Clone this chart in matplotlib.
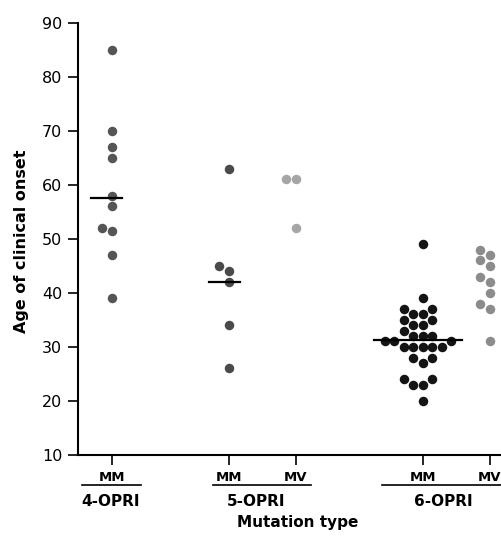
import matplotlib
matplotlib.use("Agg")
import matplotlib.pyplot as plt
import matplotlib.transforms as mtransforms
import numpy as np

# age of clinical onset, one entry per patient
ages_4opri_mm = [85, 70, 67, 65, 58, 56, 52, 51.5, 47, 39]
ages_5opri_mm = [63, 45, 44, 42, 34, 26]
ages_5opri_mv = [61, 61, 52]
ages_6opri_mm = [49, 39, 37, 37, 36, 36, 35, 35, 34, 34, 33, 32, 32, 32, 31, 31, 31,
                 30, 30, 30, 30, 30, 28, 28, 27, 24, 24, 23, 23, 20]
ages_6opri_mv = [48, 47, 46, 45, 43, 42, 40, 38, 37, 31]

# median marks (MM groups only)
medians = [57.5, 42, None, 31.3, None]

tick_labels = ["MM", "MM", "MV", "MM", "MV"]
group_names = ["4-OPRI", "5-OPRI", "6-OPRI"]
group_members = [[0], [1, 2], [3, 4]]

# layout / style
x_pos = [1.0, 2.75, 3.75, 5.65, 6.65]
colors = ["#555555", "#4a4a4a", "#a6a6a6", "#141414", "#8c8c8c"]
group_line_pad = [0.44, 0.23, 0.61]
group_label_x = [0.98, 3.16, 5.96]
dot_px = 9.5


def grid_swarm(values, y_px, d_px):
    # place dots on columns one diameter apart, nearest free column to the centre
    cand = [0]
    for k in range(1, 30):
        cand += [-k, k]
    cols = np.zeros(len(values), dtype=int)
    placed = []
    for i in np.argsort(values, kind="stable"):
        y = values[i] * y_px
        for c in cand:
            if all(not (pc == c and abs(py - y) < d_px) for pc, py in placed):
                break
        cols[i] = c
        placed.append((c, y))
    return cols


series = [ages_4opri_mm, ages_5opri_mm, ages_5opri_mv, ages_6opri_mm, ages_6opri_mv]

fig = plt.figure(figsize=(5.02, 5.38), dpi=100)
ax = fig.add_axes([0.1544, 0.1548, 0.8456, 0.803])
ax.set_xlim(0.49, 6.83)
ax.set_ylim(10, 90)

bbox = ax.get_window_extent()
x_px = bbox.width / (6.83 - 0.49)
y_px = bbox.height / 80.0
marker_s = (dot_px * 72 / fig.dpi) ** 2

for vals, x0, col, med in zip(series, x_pos, colors, medians):
    vals = np.asarray(vals, dtype=float)
    cols = grid_swarm(vals, y_px, dot_px)
    xs = x0 + cols * dot_px / x_px
    ax.scatter(xs, vals, s=marker_s, color=col, linewidths=0, zorder=3)
    if med is not None:
        half = (dot_px / 2 + 6) / x_px
        ax.plot([xs.min() - half, xs.max() + half], [med, med], color="black", lw=1.6, zorder=4)

for side in ["top", "right"]:
    ax.spines[side].set_visible(False)
for side in ["left", "bottom"]:
    ax.spines[side].set_linewidth(1.5)

ax.set_yticks(range(10, 91, 10))
ax.tick_params(axis="y", direction="out", length=7, width=1.2, labelsize=11.5, pad=4)
ax.set_xticks(x_pos)
ax.set_xticklabels(tick_labels, fontweight="bold", fontsize=9.5)
ax.tick_params(axis="x", direction="out", length=7, width=1.2, pad=4.5)

trans = mtransforms.blended_transform_factory(ax.transData, fig.transFigure)
for name, members, pad, lx in zip(group_names, group_members, group_line_pad, group_label_x):
    xa = x_pos[members[0]] - pad
    xb = x_pos[members[-1]] + pad
    ax.plot([xa, xb], [0.0985, 0.0985], color="black", lw=1.2, transform=trans, clip_on=False)
    ax.text(lx, 0.0675, name, transform=trans, ha="center", va="center",
            fontsize=11, fontweight="bold")

ax.text(3.78, 0.028, "Mutation type", transform=trans, ha="center", va="center",
        fontsize=11, fontweight="bold")
fig.text(21.5 / 502, 1 - 241 / 538, "Age of clinical onset", rotation=90,
         ha="center", va="center", fontsize=11.5, fontweight="bold")

fig.savefig("out.png", dpi=100)
